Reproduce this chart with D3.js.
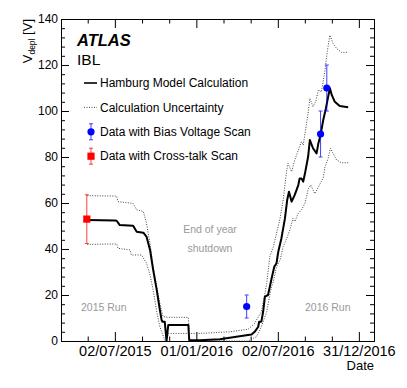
<!DOCTYPE html>
<html>
<head>
<meta charset="utf-8">
<script src="https://cdn.jsdelivr.net/npm/d3@7"></script>
<style>
  body { margin: 0; background: #fff; }
  svg { font-family: "Liberation Sans", Arial, sans-serif; }
</style>
</head>
<body>
<div id="chart"></div>
<script>
const width = 407;
const height = 388;

// Hamburg model calculation [date, V]
const hamburg = [
    ["2015-05-01", 52.6], ["2015-07-02", 52.4], ["2015-07-06", 52.3], ["2015-07-13", 50.4],
    ["2015-08-12", 50.1], ["2015-08-20", 47.5], ["2015-09-04", 47.1], ["2015-09-11", 45.4],
    ["2015-09-19", 39.6], ["2015-09-26", 30.9], ["2015-10-04", 22.2], ["2015-10-11", 13.5],
    ["2015-10-15", 9.1], ["2015-10-17", 8.4], ["2015-10-22", 8.4], ["2015-10-26", 0],
    ["2015-10-30", 7.0], ["2015-12-14", 7.0], ["2015-12-16", 0.4], ["2016-01-09", 0.3],
    ["2016-02-23", 0.8], ["2016-03-16", 1.4], ["2016-04-26", 2.6], ["2016-05-04", 2.8],
    ["2016-05-11", 4.0], ["2016-05-19", 6.2], ["2016-05-21", 8.4], ["2016-05-26", 8.4],
    ["2016-05-30", 12.7], ["2016-06-03", 19.3], ["2016-06-10", 20.0], ["2016-06-18", 27.2],
    ["2016-06-24", 32.3], ["2016-06-29", 33.8], ["2016-07-03", 38.8], ["2016-07-10", 44.6],
    ["2016-07-18", 53.3], ["2016-07-23", 61.3], ["2016-07-27", 64.9], ["2016-08-02", 60.6],
    ["2016-08-09", 63.5], ["2016-08-17", 67.8], ["2016-08-20", 70.7], ["2016-08-24", 70.7],
    ["2016-08-28", 69.3], ["2016-09-01", 72.9], ["2016-09-08", 80.1], ["2016-09-12", 87.4],
    ["2016-09-19", 83.8], ["2016-09-27", 81.6], ["2016-10-01", 85.9], ["2016-10-06", 89.6],
    ["2016-10-12", 96.1], ["2016-10-18", 101.2], ["2016-10-23", 106.2], ["2016-10-27", 109.9],
    ["2016-10-31", 107.0], ["2016-11-07", 104.0], ["2016-11-18", 102.2], ["2016-12-07", 101.6]
];

// calculation uncertainty band edges
const upperBand = [
    ["2015-05-01", 63.2], ["2015-07-06", 63.0], ["2015-07-09", 60.6], ["2015-08-12", 59.8],
    ["2015-08-20", 57.0], ["2015-09-04", 56.3], ["2015-09-11", 51.2], ["2015-09-19", 42.4],
    ["2015-09-26", 32.3], ["2015-10-04", 23.6], ["2015-10-11", 16.4], ["2015-10-18", 10.6],
    ["2015-10-30", 10.3], ["2015-12-14", 10.3], ["2015-12-16", 3.3], ["2016-01-09", 3.3],
    ["2016-03-16", 4.0], ["2016-04-26", 5.1], ["2016-05-11", 7.6], ["2016-05-15", 9.1],
    ["2016-05-26", 12.7], ["2016-06-03", 20.7], ["2016-06-07", 25.0], ["2016-06-14", 36.7],
    ["2016-06-22", 41.0], ["2016-06-29", 46.8], ["2016-07-07", 53.3], ["2016-07-14", 61.3],
    ["2016-07-22", 74.3], ["2016-07-25", 77.2], ["2016-08-02", 73.6], ["2016-08-09", 78.7],
    ["2016-08-20", 84.5], ["2016-08-24", 86.7], ["2016-08-28", 85.2], ["2016-09-08", 99.0],
    ["2016-09-12", 105.5], ["2016-09-19", 101.9], ["2016-09-25", 104.1], ["2016-10-01", 109.1],
    ["2016-10-08", 108.4], ["2016-10-16", 117.8], ["2016-10-21", 125.8], ["2016-10-27", 133.0],
    ["2016-11-03", 129.4], ["2016-11-11", 127.2], ["2016-11-22", 125.5], ["2016-12-07", 125.5]
];

const lowerBand = [
    ["2015-05-01", 42.0], ["2015-07-06", 42.2], ["2015-07-09", 40.3], ["2015-08-05", 39.6],
    ["2015-08-08", 37.4], ["2015-08-31", 37.4], ["2015-09-11", 33.8], ["2015-09-19", 28.7],
    ["2015-09-26", 22.2], ["2015-10-04", 12.7], ["2015-10-11", 6.2], ["2015-10-22", 0.4],
    ["2015-10-26", 0], ["2015-10-30", 3.3], ["2015-12-14", 3.3], ["2015-12-16", 0],
    ["2016-04-26", 0], ["2016-05-15", 1.9], ["2016-05-23", 4.8], ["2016-05-30", 8.4],
    ["2016-06-07", 12.7], ["2016-06-14", 20.0], ["2016-06-18", 23.6], ["2016-06-22", 25.8],
    ["2016-06-29", 32.3], ["2016-07-07", 35.2], ["2016-07-14", 41.0], ["2016-07-22", 44.6],
    ["2016-07-29", 48.3], ["2016-08-05", 53.3], ["2016-08-09", 51.9], ["2016-08-17", 55.5],
    ["2016-08-24", 57.0], ["2016-09-01", 59.8], ["2016-09-08", 66.0], ["2016-09-14", 67.8],
    ["2016-09-23", 64.0], ["2016-10-04", 68.0], ["2016-10-12", 71.0], ["2016-10-16", 75.8],
    ["2016-10-23", 79.4], ["2016-10-28", 83.8], ["2016-11-03", 81.6], ["2016-11-11", 78.7],
    ["2016-11-22", 77.5], ["2016-12-07", 77.5]
];

// measurements [date, V, error]
const biasScan = [["2016-04-23", 15, 5], ["2016-10-06", 90, 10], ["2016-10-20", 110, 10]];
const crossTalkScan = [["2015-04-30", 53, 10.6]];

const xMajorTicks = ["2015-07-02", "2016-01-01", "2016-07-02", "2016-12-31"];
const yMajorTicks = [0, 20, 40, 60, 80, 100, 120, 140];

const legendItems = [
    { label: "Hamburg Model Calculation", kind: "line" },
    { label: "Calculation Uncertainty", kind: "dotted" },
    { label: "Data with Bias Voltage Scan", kind: "circle" },
    { label: "Data with Cross-talk Scan", kind: "square" }
];

const parse = d3.utcParse("%Y-%m-%d");
const frame = { left: 61, right: 374, top: 19, bottom: 341 };

const x = d3.scaleUtc()
    .domain([parse("2015-03-03"), parse("2017-02-03")])
    .range([frame.left, frame.right]);
const y = d3.scaleLinear().domain([0, 140]).range([frame.bottom, frame.top]);

const majors = xMajorTicks.map(parse);
const step = (majors[1] - majors[0]) / 3;
const xMinor = [];
for (let t = +majors[0] - step; t >= +x.domain()[0]; t -= step) xMinor.push(new Date(t));
majors.forEach((m, i) => {
    if (i < majors.length - 1) {
        const s = (majors[i + 1] - m) / 3;
        xMinor.push(new Date(+m + s), new Date(+m + 2 * s));
    }
});
for (let t = +majors[majors.length - 1] + step; t <= +x.domain()[1]; t += step) xMinor.push(new Date(t));
const yMinor = d3.range(0, 141, 4).filter(v => v % 20 !== 0);

const svg = d3.select("#chart").append("svg")
    .attr("width", width)
    .attr("height", height);

svg.append("rect").attr("width", width).attr("height", height).attr("fill", "#fff");

// axes, ROOT style with ticks inside the frame
const fmt = d3.utcFormat("%d/%m/%Y");
function styleAxis(g) {
    g.selectAll("path.domain").attr("stroke", "#000").attr("stroke-width", 1);
    g.selectAll(".tick line").attr("stroke", "#000");
}

svg.append("g")
    .attr("transform", `translate(0,${frame.bottom})`)
    .call(d3.axisBottom(x).tickValues(majors).tickFormat(fmt).tickSize(-9).tickSizeOuter(0).tickPadding(4.5))
    .call(styleAxis)
    .call(g => g.selectAll("text").attr("font-size", 14.5).attr("fill", "#000")
        .attr("font-family", "Liberation Sans, Arial, sans-serif"));
svg.append("g")
    .attr("transform", `translate(0,${frame.bottom})`)
    .call(d3.axisBottom(x).tickValues(xMinor).tickFormat("").tickSize(-4.5).tickSizeOuter(0))
    .call(styleAxis);
svg.append("g")
    .attr("transform", `translate(0,${frame.top})`)
    .call(d3.axisTop(x).tickValues(majors).tickFormat("").tickSize(-9).tickSizeOuter(0))
    .call(styleAxis);
svg.append("g")
    .attr("transform", `translate(0,${frame.top})`)
    .call(d3.axisTop(x).tickValues(xMinor).tickFormat("").tickSize(-4.5).tickSizeOuter(0))
    .call(styleAxis);

svg.append("g")
    .attr("transform", `translate(${frame.left},0)`)
    .call(d3.axisLeft(y).tickValues(yMajorTicks).tickSize(-8).tickSizeOuter(0).tickPadding(3))
    .call(styleAxis)
    .call(g => g.selectAll("text").attr("font-size", 12).attr("fill", "#000")
        .attr("font-family", "Liberation Sans, Arial, sans-serif"));
svg.append("g")
    .attr("transform", `translate(${frame.left},0)`)
    .call(d3.axisLeft(y).tickValues(yMinor).tickFormat("").tickSize(-4).tickSizeOuter(0))
    .call(styleAxis);
svg.append("g")
    .attr("transform", `translate(${frame.right},0)`)
    .call(d3.axisRight(y).tickValues(yMajorTicks).tickFormat("").tickSize(-8).tickSizeOuter(0))
    .call(styleAxis);
svg.append("g")
    .attr("transform", `translate(${frame.right},0)`)
    .call(d3.axisRight(y).tickValues(yMinor).tickFormat("").tickSize(-4).tickSizeOuter(0))
    .call(styleAxis);

// axis titles
svg.append("text")
    .attr("x", frame.right).attr("y", 370)
    .attr("text-anchor", "end")
    .attr("font-size", 13)
    .text("Date");

const yTitle = svg.append("text")
    .attr("transform", `translate(32,${frame.top}) rotate(-90)`)
    .attr("text-anchor", "end")
    .attr("font-size", 13);
yTitle.append("tspan").text("V");
yTitle.append("tspan").attr("dy", 3).attr("font-size", 8.5).text("depl");
yTitle.append("tspan").attr("dy", -3).text(" [V]");

// curves
const line = d3.line()
    .x(d => x(parse(d[0])))
    .y(d => y(d[1]));

[upperBand, lowerBand].forEach(band => {
    svg.append("path")
        .datum(band)
        .attr("d", line)
        .attr("fill", "none")
        .attr("stroke", "#444")
        .attr("stroke-width", 1)
        .attr("stroke-dasharray", "1,1.5");
});

svg.append("path")
    .datum(hamburg)
    .attr("d", line)
    .attr("fill", "none")
    .attr("stroke", "#000")
    .attr("stroke-width", 2)
    .attr("stroke-linejoin", "round");

// data points with error bars
function errorBars(data, color) {
    const g = svg.append("g").attr("stroke", color).attr("stroke-width", 1).attr("opacity", 0.75);
    data.forEach(([date, v, e]) => {
        const cx = x(parse(date));
        g.append("line").attr("x1", cx).attr("x2", cx).attr("y1", y(v - e)).attr("y2", y(v + e));
        g.append("line").attr("x1", cx - 2).attr("x2", cx + 2).attr("y1", y(v - e)).attr("y2", y(v - e));
        g.append("line").attr("x1", cx - 2).attr("x2", cx + 2).attr("y1", y(v + e)).attr("y2", y(v + e));
    });
}
errorBars(biasScan, "#0000ff");
errorBars(crossTalkScan, "#ff0000");

svg.selectAll("circle.bias")
    .data(biasScan)
    .enter()
    .append("circle")
    .attr("class", "bias")
    .attr("cx", d => x(parse(d[0])))
    .attr("cy", d => y(d[1]))
    .attr("r", 3.6)
    .attr("fill", "#0000ff");

svg.selectAll("rect.xtalk")
    .data(crossTalkScan)
    .enter()
    .append("rect")
    .attr("class", "xtalk")
    .attr("x", d => x(parse(d[0])) - 3.6)
    .attr("y", d => y(d[1]) - 3.6)
    .attr("width", 7.2)
    .attr("height", 7.2)
    .attr("fill", "#ff0000");

// labels
svg.append("text")
    .attr("x", 77).attr("y", 46)
    .attr("font-size", 16.5)
    .attr("font-weight", "bold")
    .attr("font-style", "italic")
    .text("ATLAS");
svg.append("text")
    .attr("x", 77).attr("y", 65)
    .attr("font-size", 15.5)
    .text("IBL");

const gray = "#999";
svg.append("text").attr("x", 210).attr("y", 233).attr("text-anchor", "middle")
    .attr("font-size", 10.5).attr("fill", gray).text("End of year");
svg.append("text").attr("x", 210).attr("y", 252).attr("text-anchor", "middle")
    .attr("font-size", 10.5).attr("fill", gray).text("shutdown");
svg.append("text").attr("x", 81).attr("y", 311)
    .attr("font-size", 10.5).attr("fill", gray).text("2015 Run");
svg.append("text").attr("x", 305).attr("y", 311)
    .attr("font-size", 10.5).attr("fill", gray).text("2016 Run");

// legend
const legend = svg.append("g").attr("transform", "translate(84,83)");
legendItems.forEach((item, i) => {
    const g = legend.append("g").attr("transform", `translate(0,${i * 24.4})`);
    if (item.kind === "line") {
        g.append("line").attr("x1", 0).attr("x2", 13).attr("stroke", "#333").attr("stroke-width", 2);
    } else if (item.kind === "dotted") {
        g.append("line").attr("x1", 0).attr("x2", 13).attr("stroke", "#444")
            .attr("stroke-dasharray", "1,1.5");
    } else {
        const color = item.kind === "circle" ? "#0000ff" : "#ff0000";
        g.append("line").attr("x1", 7).attr("x2", 7).attr("y1", -8).attr("y2", 8)
            .attr("stroke", color).attr("opacity", 0.75);
        g.append("line").attr("x1", 5).attr("x2", 9).attr("y1", -8).attr("y2", -8)
            .attr("stroke", color).attr("opacity", 0.75);
        g.append("line").attr("x1", 5).attr("x2", 9).attr("y1", 8).attr("y2", 8)
            .attr("stroke", color).attr("opacity", 0.75);
        if (item.kind === "circle") {
            g.append("circle").attr("cx", 7).attr("r", 3.6).attr("fill", color);
        } else {
            g.append("rect").attr("x", 3.4).attr("y", -3.6).attr("width", 7.2).attr("height", 7.2)
                .attr("fill", color);
        }
    }
    g.append("text")
        .attr("x", 16)
        .attr("dy", "0.35em")
        .attr("font-size", 12)
        .text(item.label);
});
</script>
</body>
</html>
